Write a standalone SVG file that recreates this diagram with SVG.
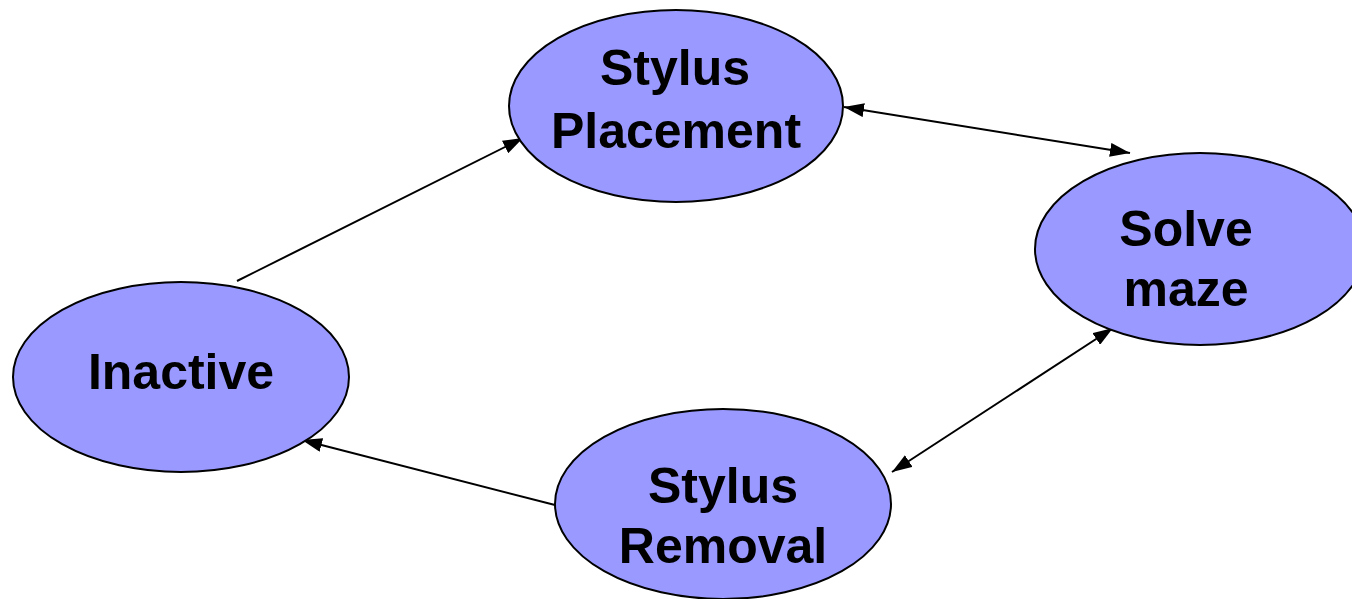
<svg xmlns="http://www.w3.org/2000/svg" width="1352" height="599" viewBox="0 0 1352 599">
<style>
.node{fill:#9999FF;stroke:#000;stroke-width:2}
.lbl{font-family:"Liberation Sans",Arial,sans-serif;font-weight:bold;font-size:50px;fill:#000;text-anchor:middle}
.edge{stroke:#000;stroke-width:2;fill:none}
</style>
<defs>
<marker id="ah" viewBox="0 0 20 14" refX="20" refY="7" markerWidth="20" markerHeight="14" markerUnits="userSpaceOnUse" orient="auto-start-reverse">
<path d="M0,0 L20,7 L0,14 z" fill="#000"/>
</marker>
</defs>
<rect width="1352" height="599" fill="#fff"/>
<g id="connectors">
<line class="edge" x1="237" y1="281" x2="523" y2="138" marker-end="url(#ah)"/>
<line class="edge" x1="844" y1="107" x2="1130" y2="153" marker-start="url(#ah)" marker-end="url(#ah)"/>
<line class="edge" x1="1113" y1="328" x2="892" y2="472" marker-start="url(#ah)" marker-end="url(#ah)"/>
<line class="edge" x1="555" y1="505" x2="302" y2="440" marker-end="url(#ah)"/>
</g>
<g id="stylus-placement">
<ellipse class="node" cx="676" cy="106" rx="167" ry="96"/>
<text class="lbl" x="675" y="85">Stylus</text>
<text class="lbl" x="676" y="148">Placement</text>
</g>
<g id="solve-maze">
<ellipse class="node" cx="1200" cy="249" rx="165" ry="96"/>
<text class="lbl" x="1186" y="246">Solve</text>
<text class="lbl" x="1186" y="306">maze</text>
</g>
<g id="inactive">
<ellipse class="node" cx="181" cy="377" rx="168" ry="95"/>
<text class="lbl" x="181" y="389">Inactive</text>
</g>
<g id="stylus-removal">
<ellipse class="node" cx="723" cy="504" rx="168" ry="95"/>
<text class="lbl" x="723" y="503">Stylus</text>
<text class="lbl" x="723" y="563">Removal</text>
</g>
</svg>
